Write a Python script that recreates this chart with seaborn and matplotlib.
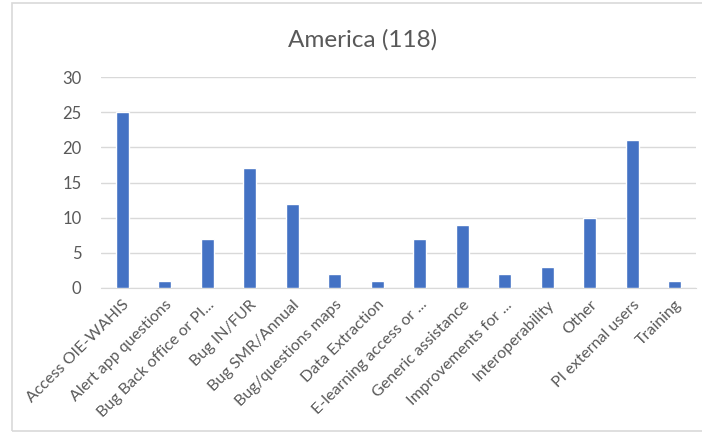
import matplotlib
matplotlib.use('Agg')
from matplotlib import pyplot as plt
import seaborn as sns
import pandas as pd

categories = ['Access OIE-WAHIS', 'Alert app questions', 'Bug Back office or PI...', 'Bug IN/FUR',
              'Bug SMR/Annual', 'Bug/questions maps', 'Data Extraction', 'E-learning access or ...',
              'Generic assistance', 'Improvements for ...', 'Interoperability', 'Other',
              'PI external users', 'Training']
counts = [25, 1, 7, 17, 12, 2, 1, 7, 9, 2, 3, 10, 21, 1]
yticks = [0, 5, 10, 15, 20, 25, 30]

df = pd.DataFrame({'category': categories, 'count': counts})

sns.set_style('white')
plt.rcParams['font.family'] = ['Lato', 'DejaVu Sans']

text_col = '#595959'
fig = plt.figure(figsize=(7.02, 4.33), dpi=100)
ax = fig.add_axes([101 / 702, 1 - 288 / 433, 595 / 702, 211 / 433])

sns.barplot(data=df, x='category', y='count', color='#4472C4', width=0.31,
            saturation=1, ax=ax, zorder=3)

ax.set_ylim(0, 30)
ax.set_yticks(yticks)
ax.set_xlim(-0.5, len(categories) - 0.5)
ax.yaxis.grid(True, color='#D9D9D9', linewidth=1, zorder=0)
for s in ['top', 'right', 'left']:
    ax.spines[s].set_visible(False)
ax.spines['bottom'].set_color('#D9D9D9')
ax.set_xlabel('')
ax.set_ylabel('')
ax.tick_params(axis='both', length=0, colors=text_col)
ax.tick_params(axis='y', labelsize=12, pad=14)
ax.tick_params(axis='x', labelsize=11.5, pad=7)
plt.setp(ax.get_xticklabels(), rotation=45, ha='right', rotation_mode='anchor')

fig.text(363 / 702, 1 - 40 / 433, 'America (118)', ha='center', va='center',
         fontsize=17.5, color=text_col)

# outer chart frame
frame = plt.Rectangle((12 / 702, 2 / 433), 1.2, 428 / 433, transform=fig.transFigure,
                      fill=False, edgecolor='#D9D9D9', linewidth=1.2)
fig.patches.append(frame)

fig.savefig('out.png', dpi=100)
